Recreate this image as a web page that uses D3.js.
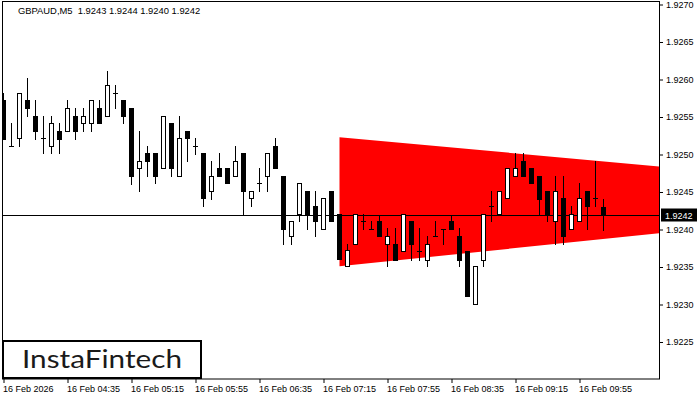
<!DOCTYPE html>
<html>
<head>
<meta charset="utf-8">
<script src="https://cdn.jsdelivr.net/npm/d3@7"></script>
<style>
  body { margin: 0; background: #fff; }
  svg { display: block; font-family: "Liberation Sans", Arial, sans-serif; }
</style>
</head>
<body>
<svg width="700" height="400"></svg>
<script>
// GBPAUD M5 candles
const opens = [1.92572,1.92512,1.92522,1.92572,1.92552,1.92522,1.92512,1.92532,1.92531,1.92552,
  1.92542,1.92542,1.92562,1.92551,1.92582,1.92572,1.92562,1.92482,1.92502,1.92502,
  1.92482,1.92542,1.92471,1.92532,1.92512,1.92502,1.92451,1.92482,1.92482,1.92471,
  1.92502,1.92442,1.92462,1.92471,1.92512,1.92472,1.92391,1.92421,1.92452,1.92432,
  1.92401,1.92452,1.92421,1.92352,1.92381,1.92411,1.92401,1.92412,1.92381,1.92381,
  1.92371,1.92412,1.92371,1.92360,1.92392,1.92401,1.92412,1.92392,1.92371,1.92301,
  1.92360,1.92431,1.92421,1.92442,1.92471,1.92492,1.92482,1.92472,1.92452,1.92411,
  1.92442,1.92401,1.92411,1.92452,1.92442,1.92430];
const highs = [1.92582,1.92542,1.92582,1.92602,1.92572,1.92552,1.92552,1.92542,1.92572,1.92562,
  1.92562,1.92572,1.92572,1.92612,1.92592,1.92572,1.92562,1.92532,1.92512,1.92502,
  1.92552,1.92542,1.92552,1.92532,1.92522,1.92502,1.92492,1.92502,1.92482,1.92512,
  1.92502,1.92452,1.92482,1.92502,1.92522,1.92472,1.92412,1.92462,1.92452,1.92452,
  1.92442,1.92452,1.92421,1.92381,1.92421,1.92421,1.92411,1.92420,1.92402,1.92402,
  1.92421,1.92412,1.92402,1.92392,1.92412,1.92401,1.92420,1.92402,1.92371,1.92351,
  1.92421,1.92451,1.92451,1.92482,1.92502,1.92502,1.92482,1.92472,1.92452,1.92472,
  1.92472,1.92432,1.92462,1.92452,1.92492,1.92440];
const lows = [1.92521,1.92512,1.92511,1.92551,1.92521,1.92502,1.92502,1.92502,1.92531,1.92521,
  1.92531,1.92531,1.92542,1.92551,1.92562,1.92542,1.92461,1.92451,1.92471,1.92462,
  1.92482,1.92471,1.92471,1.92491,1.92501,1.92431,1.92441,1.92471,1.92462,1.92471,
  1.92421,1.92431,1.92451,1.92451,1.92482,1.92381,1.92381,1.92411,1.92401,1.92391,
  1.92401,1.92411,1.92361,1.92352,1.92381,1.92401,1.92401,1.92391,1.92351,1.92360,
  1.92371,1.92360,1.92360,1.92351,1.92392,1.92381,1.92401,1.92351,1.92311,1.92301,
  1.92351,1.92411,1.92421,1.92442,1.92471,1.92471,1.92462,1.92421,1.92411,1.92381,
  1.92381,1.92401,1.92411,1.92401,1.92431,1.92400];
const closes = [1.92521,1.92512,1.92582,1.92562,1.92531,1.92522,1.92542,1.92521,1.92562,1.92531,
  1.92552,1.92572,1.92542,1.92592,1.92582,1.92551,1.92471,1.92492,1.92491,1.92471,
  1.92552,1.92482,1.92522,1.92522,1.92512,1.92442,1.92472,1.92471,1.92462,1.92492,
  1.92451,1.92452,1.92462,1.92502,1.92482,1.92401,1.92412,1.92462,1.92421,1.92411,
  1.92442,1.92411,1.92361,1.92372,1.92421,1.92411,1.92401,1.92391,1.92392,1.92360,
  1.92421,1.92381,1.92371,1.92381,1.92392,1.92401,1.92401,1.92360,1.92311,1.92351,
  1.92421,1.92431,1.92451,1.92482,1.92482,1.92471,1.92462,1.92441,1.92421,1.92452,
  1.92391,1.92421,1.92442,1.92431,1.92442,1.92420];

const priceTicks = [1.9225, 1.9230, 1.9235, 1.9240, 1.9245, 1.9250, 1.9255, 1.9260, 1.9265, 1.9270];
const timeTickIndex = [0, 8, 16, 24, 32, 40, 48, 56, 64, 72];
const timeTickLabels = ['16 Feb 2026', '16 Feb 04:35', '16 Feb 05:15', '16 Feb 05:55', '16 Feb 06:35',
  '16 Feb 07:15', '16 Feb 07:55', '16 Feb 08:35', '16 Feb 09:15', '16 Feb 09:55'];
const lastPrice = 1.9242;
const titleText = 'GBPAUD,M5  1.9243 1.9244 1.9240 1.9242';

// triangle pattern (bar index, upper and lower bound)
const patternIndex = [42, 82];
const patternTop = [1.92523, 1.92484];
const patternBottom = [1.92351, 1.92395];

const svg = d3.select('svg');
const plotLeft = 2, plotTop = 2, plotRight = 659, plotBottom = 379;

const x = d3.scaleLinear().domain([0, 75]).range([3.5, 603.5]);
const y = d3.scaleLinear().domain([1.9225, 1.9270]).range([342, 4.5]);
const py = p => Math.round(y(p)) + 0.5;

svg.append('defs').append('clipPath').attr('id', 'plot')
  .append('rect')
  .attr('x', plotLeft).attr('y', plotTop)
  .attr('width', plotRight - plotLeft).attr('height', plotBottom - plotTop);

const plot = svg.append('g').attr('clip-path', 'url(#plot)');

// red triangle
const patternPts = [
  [x(patternIndex[0]), y(patternTop[0])],
  [x(patternIndex[1]), y(patternTop[1])],
  [x(patternIndex[1]), y(patternBottom[1])],
  [x(patternIndex[0]), y(patternBottom[0])]
];
plot.append('path')
  .attr('d', d3.line()(patternPts) + 'Z')
  .attr('fill', '#ff0000');

// bid line
plot.append('line')
  .attr('x1', plotLeft).attr('x2', plotRight)
  .attr('y1', py(lastPrice)).attr('y2', py(lastPrice))
  .attr('stroke', '#000').attr('stroke-width', 1);

// candles
const bars = opens.map((o, i) => ({ i, o, h: highs[i], l: lows[i], c: closes[i] }));
const candle = plot.append('g').selectAll('g').data(bars).enter().append('g');

candle.append('line')
  .attr('x1', d => x(d.i)).attr('x2', d => x(d.i))
  .attr('y1', d => py(d.h) - 0.5).attr('y2', d => py(d.l) + 0.5)
  .attr('stroke', '#000').attr('stroke-width', 1)
  .attr('shape-rendering', 'crispEdges');

candle.filter(d => py(d.o) !== py(d.c)).append('rect')
  .attr('x', d => x(d.i) - 2)
  .attr('y', d => Math.min(py(d.o), py(d.c)))
  .attr('width', 4)
  .attr('height', d => Math.abs(py(d.o) - py(d.c)))
  .attr('fill', d => d.c > d.o ? '#fff' : '#000')
  .attr('stroke', '#000').attr('stroke-width', 1);

candle.filter(d => py(d.o) === py(d.c)).append('line')
  .attr('x1', d => x(d.i) - 2.5).attr('x2', d => x(d.i) + 2.5)
  .attr('y1', d => py(d.o)).attr('y2', d => py(d.o))
  .attr('stroke', '#000').attr('stroke-width', 1);

// frame
svg.append('rect')
  .attr('x', plotLeft + 0.5).attr('y', plotTop - 0.5)
  .attr('width', plotRight - plotLeft).attr('height', plotBottom - plotTop + 0.5)
  .attr('fill', 'none').attr('stroke', '#000').attr('stroke-width', 1);

// axes
const yAxis = svg.append('g')
  .attr('transform', `translate(${plotRight},0)`)
  .call(d3.axisRight(y).tickValues(priceTicks).tickFormat(d3.format('.4f')).tickSize(4).tickPadding(3));
yAxis.select('.domain').remove();
yAxis.selectAll('text').attr('font-size', 9).attr('font-family', '"Liberation Sans", Arial, sans-serif').attr('fill', '#000');

const xAxis = svg.append('g')
  .attr('transform', `translate(0,${plotBottom})`)
  .call(d3.axisBottom(x).tickValues(timeTickIndex).tickFormat((d, i) => timeTickLabels[i]).tickSize(4).tickPadding(3));
xAxis.select('.domain').remove();
xAxis.selectAll('text')
  .attr('text-anchor', 'start').attr('dx', -1)
  .attr('font-size', 9).attr('font-family', '"Liberation Sans", Arial, sans-serif').attr('fill', '#000');

// last price label
const lp = py(lastPrice);
svg.append('rect')
  .attr('x', 661).attr('y', lp - 7).attr('width', 36).attr('height', 13)
  .attr('fill', '#000');
svg.append('text')
  .attr('x', 665).attr('y', lp + 3.5)
  .attr('font-size', 9).attr('fill', '#fff')
  .text(d3.format('.4f')(lastPrice));

// title
svg.append('text')
  .attr('x', 18).attr('y', 14)
  .attr('font-size', 9.4).attr('fill', '#000')
  .style('white-space', 'pre')
  .text(titleText);

// logo
svg.append('rect')
  .attr('x', 3).attr('y', 341).attr('width', 198).attr('height', 37)
  .attr('fill', '#fff').attr('stroke', '#000').attr('stroke-width', 2);
svg.append('text')
  .attr('x', 22).attr('y', 368)
  .attr('font-family', 'Lato, sans-serif').attr('font-size', 25).attr('font-weight', 400)
  .attr('fill', '#1a1a1a')
  .attr('textLength', 160).attr('lengthAdjust', 'spacingAndGlyphs')
  .text('InstaFintech');
</script>
</body>
</html>
